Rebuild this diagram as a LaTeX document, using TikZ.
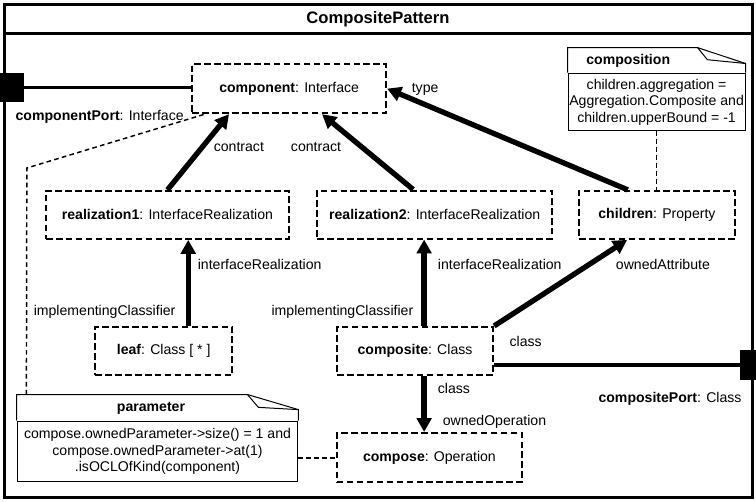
\documentclass[tikz,border=0pt]{standalone}
\usepackage{fontspec}
\setmainfont{Liberation Sans}
\usetikzlibrary{positioning,calc,arrows.meta}

\tikzset{
  partbox/.style={draw, line width=1.5pt, dash pattern=on 5pt off 2.5pt, minimum height=1.27cm, inner sep=1pt},
  notebody/.style={draw, line width=0.75pt, inner sep=0.5pt, align=center},
  noteline/.style={line width=0.75pt},
  anchorline/.style={line width=1.1pt, dash pattern=on 3.5pt off 2.5pt},
  assoc/.style={line width=4pt, -{Triangle[length=10.5pt,width=11pt]}},
  portline/.style={line width=3pt},
  port/.style={fill=black, minimum size=0.77cm, inner sep=0pt},
  diagramframe/.style={line width=2.2pt},
}

\begin{document}
\begin{tikzpicture}[font=\fontsize{10.6}{12.5}\selectfont]
\useasboundingbox (0,0) rectangle (20.0,13.255);

% frame and title bar
\draw[diagramframe] (0.12,0.09) rectangle (19.9,13.14);
\draw[diagramframe] (0.12,12.38) -- (19.9,12.38);
\path (10.0, 12.75) node (title) {\fontsize{12.5}{14}\selectfont\textbf{CompositePattern}};

% parts
\path (7.65, 10.91) node[partbox, minimum width=5.13cm, minimum height=1.3cm] (component) {\textbf{component}: Interface};
\path (4.43, 7.57) node[partbox, minimum width=6.43cm] (realization1) {\textbf{realization1}: InterfaceRealization};
\path (11.5, 7.58) node[partbox, minimum width=6.22cm] (realization2) {\textbf{realization2}: InterfaceRealization};
\path (17.38, 7.57) node[partbox, minimum width=4.13cm] (children) {\textbf{children}: Property};
\path (4.33, 3.97) node[partbox, minimum width=3.63cm] (leaf) {\textbf{leaf}: Class [ * ]};
\path (10.98, 3.97) node[partbox, minimum width=4.13cm] (composite) {\textbf{composite}: Class};
\path (11.36, 1.15) node[partbox, minimum width=4.9cm, minimum height=1.3cm] (compose) {\textbf{compose}: Operation};

% ports
\path (0.25, 10.94) node[port] (componentPort) {};
\path (19.96, 3.6) node[port] (compositePort) {};
\draw[portline] (componentPort) -- (componentPort -| component.west);
\draw[portline] (compositePort) -- (compositePort -| composite.east);
\path (0.29, 10.16) node[anchor=west] (componentPortlabel) {\textbf{componentPort}: Interface};
\path (19.74, 2.7) node[anchor=east] (compositePortlabel) {\textbf{compositePort}: Class};

% connectors
\draw[assoc] (realization1.north) -- ([xshift=1.0cm]component.south west);
\draw[assoc] ([xshift=-0.57cm]realization2.north) -- ([xshift=0.87cm]component.south);
\draw[assoc] ([xshift=-0.77cm]children.north) -- (component.east);
\draw[assoc] ([xshift=0.65cm]leaf.north) -- ([xshift=0.65cm]leaf.north |- realization1.south);
\draw[assoc] ([xshift=0.24cm]composite.north) -- ([xshift=0.24cm]composite.north |- realization2.south);
\draw[assoc] (composite.north east) -- ([xshift=-0.79cm]children.south);
\draw[assoc] ([xshift=0.24cm]composite.south) -- ([xshift=0.24cm]composite.south |- compose.north);

% end names
\path (10.77, 10.9) node[anchor=west] (typelabel) {type};
\path (6.32, 9.37) node (contract1) {contract};
\path (8.36, 9.37) node (contract2) {contract};
\path (5.11, 6.27) node[anchor=west] (interfaceRealization1) {interfaceRealization};
\path (0.77, 5.0) node[anchor=west] (implementingClassifier1) {implementingClassifier};
\path (11.46, 6.27) node[anchor=west] (interfaceRealization2) {interfaceRealization};
\path (7.06, 5.0) node[anchor=west] (implementingClassifier2) {implementingClassifier};
\path (16.17, 6.27) node[anchor=west] (ownedAttribute) {ownedAttribute};
\path (13.36, 4.23) node[anchor=west] (class1) {class};
\path (11.46, 2.99) node[anchor=west] (class2) {class};
\path (11.59, 2.09) node[anchor=west] (ownedOperation) {ownedOperation};

% constraint notes
\path (17.37, 10.557) node[notebody, minimum width=4.68cm, minimum height=1.53cm] (compositionbody) {children.aggregation =\\Aggregation.Composite and\\children.upperBound = -1};
\path (16.62, 11.655) node (compositionhead) {\textbf{composition}};
\draw[noteline] (compositionbody.north west) -- ++(0,0.66) -- ([shift={(-1.27,0.66)}]compositionbody.north east) -- ([yshift=0.24cm]compositionbody.north east) -- (compositionbody.north east);
\draw[noteline] ([shift={(-1.27,0.66)}]compositionbody.north east) -- ++(0.26,-0.32) -- ([yshift=0.24cm]compositionbody.north east);

\path (4.167, 1.31) node[notebody, minimum width=7.43cm, minimum height=1.61cm] (parameterbody) {compose.ownedParameter->size() = 1 and\\compose.ownedParameter->at(1)\\.isOCLOfKind(component)};
\path (3.995, 2.461) node (parameterhead) {\textbf{parameter}};
\draw[noteline] (parameterbody.north west) -- ++(0,0.69) -- ([shift={(-1.35,0.69)}]parameterbody.north east) -- ([yshift=0.29cm]parameterbody.north east) -- (parameterbody.north east);
\draw[noteline] ([shift={(-1.35,0.69)}]parameterbody.north east) -- ++(0.29,-0.34) -- ([yshift=0.29cm]parameterbody.north east);

% note anchors
\coordinate (parametertop) at ([shift={(0.26,0.69)}]parameterbody.north west);
\coordinate (bend) at (0.71, 8.81);
\draw[anchorline] (parametertop) -- (bend) -- (component);
\draw[anchorline] (compositionbody.south) -- (compositionbody.south |- children.north);
\draw[anchorline, line width=1.6pt] (parameterbody.east |- compose.west) -- (compose.west);
\end{tikzpicture}
\end{document}
